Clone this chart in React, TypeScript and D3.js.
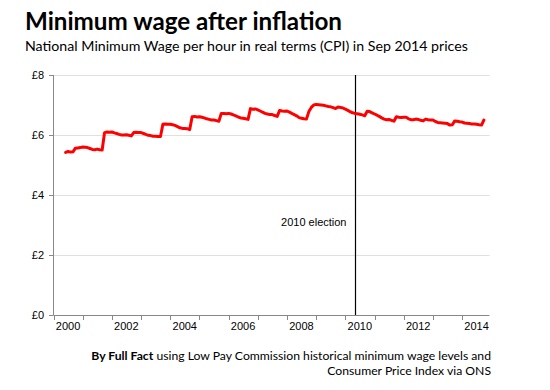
import React from "react";
import * as d3 from "d3";

// real-terms minimum wage per hour (Sep 2014 prices), monthly from Jun 2000
const firstMonth = new Date(2000, 5, 1);
const wage2000 = [5.42, 5.45, 5.43, 5.44, 5.56, 5.57, 5.58];
const wage2001 = [5.6, 5.59, 5.58, 5.55, 5.52, 5.51, 5.53, 5.51, 5.5, 6.08, 6.1, 6.09];
const wage2002 = [6.1, 6.07, 6.05, 6.02, 6.0, 6.0, 6.01, 5.99, 5.97, 6.08, 6.09, 6.08];
const wage2003 = [6.08, 6.05, 6.02, 5.99, 5.98, 5.96, 5.96, 5.95, 5.95, 6.36, 6.37, 6.36];
const wage2004 = [6.36, 6.34, 6.32, 6.28, 6.24, 6.22, 6.22, 6.21, 6.18, 6.61, 6.62, 6.6];
const wage2005 = [6.61, 6.59, 6.57, 6.54, 6.52, 6.5, 6.5, 6.48, 6.46, 6.72, 6.72, 6.71];
const wage2006 = [6.72, 6.7, 6.67, 6.64, 6.6, 6.57, 6.56, 6.54, 6.52, 6.88, 6.86, 6.87];
const wage2007 = [6.84, 6.8, 6.76, 6.72, 6.7, 6.68, 6.68, 6.65, 6.62, 6.82, 6.8, 6.79];
const wage2008 = [6.8, 6.76, 6.72, 6.68, 6.64, 6.58, 6.56, 6.54, 6.53, 6.78, 6.92, 7.0];
const wage2009 = [7.02, 7.01, 7.0, 6.99, 6.97, 6.95, 6.94, 6.91, 6.88, 6.93, 6.92, 6.9];
const wage2010 = [6.86, 6.82, 6.78, 6.74, 6.72, 6.71, 6.69, 6.67, 6.64, 6.79, 6.78, 6.74];
const wage2011 = [6.7, 6.66, 6.62, 6.57, 6.53, 6.51, 6.52, 6.49, 6.46, 6.61, 6.59, 6.58];
const wage2012 = [6.59, 6.59, 6.54, 6.51, 6.51, 6.53, 6.52, 6.49, 6.47, 6.53, 6.51, 6.5];
const wage2013 = [6.5, 6.45, 6.42, 6.41, 6.4, 6.39, 6.38, 6.33, 6.34, 6.47, 6.46, 6.44];
const wage2014 = [6.43, 6.4, 6.39, 6.38, 6.37, 6.37, 6.36, 6.34, 6.33, 6.5];

const wages = [
  ...wage2000, ...wage2001, ...wage2002, ...wage2003, ...wage2004,
  ...wage2005, ...wage2006, ...wage2007, ...wage2008, ...wage2009,
  ...wage2010, ...wage2011, ...wage2012, ...wage2013, ...wage2014,
];

const yTicks = [0, 2, 4, 6, 8];
const yearLabels = [2000, 2002, 2004, 2006, 2008, 2010, 2012, 2014];
const electionDate = new Date(2010, 4, 6);

const tickFont = "'Liberation Sans', Arial, sans-serif";
const textFont = "Lato, 'Open Sans', sans-serif";

const App = () => {
  const x = d3
    .scaleTime()
    .domain([new Date(2000, 0, 1), new Date(2014, 11, 10)])
    .range([53.5, 489.5]);
  const y = d3.scaleLinear().domain([0, 8]).range([315, 75]);

  const points = wages.map((v, i) => ({ date: d3.timeMonth.offset(firstMonth, i), value: v }));
  const line = d3
    .line<{ date: Date; value: number }>()
    .x(d => x(d.date))
    .y(d => y(d.value));

  const yearTicks = d3.timeYear.range(new Date(2000, 0, 1), new Date(2015, 0, 1));
  const ex = Math.round(x(electionDate)) + 0.5;

  return (
    <svg width={550} height={390} style={{ position: "absolute", left: 0, top: 0 }}>
      <rect width={550} height={390} fill="#fff" />
      <text x={25} y={30} fontFamily={textFont} fontWeight="bold" fontSize={24.2} fill="#000">
        Minimum wage after inflation
      </text>
      <text x={25} y={51} fontFamily={textFont} fontSize={14.2} fill="#000">
        National Minimum Wage per hour in real terms (CPI) in Sep 2014 prices
      </text>

      {yTicks.map(t => (
        <g key={t}>
          {t > 0 && (
            <line x1={53.5} x2={489.5} y1={y(t) + 0.5} y2={y(t) + 0.5} stroke="#e0e0e0" />
          )}
          <line x1={49} x2={53.5} y1={y(t) + 0.5} y2={y(t) + 0.5} stroke="#888" />
          <text
            x={44}
            y={y(t) + 4}
            textAnchor="end"
            fontFamily={tickFont}
            fontSize={11}
            fill="#000"
          >
            £{t}
          </text>
        </g>
      ))}

      <line x1={53.5} x2={53.5} y1={75} y2={315} stroke="#888" />
      <line x1={53.5} x2={489.5} y1={315.5} y2={315.5} stroke="#888" />
      {yearTicks.map(d => (
        <line
          key={d.getFullYear()}
          x1={Math.round(x(d)) + 0.5}
          x2={Math.round(x(d)) + 0.5}
          y1={315}
          y2={320}
          stroke="#888"
        />
      ))}
      {yearLabels.map(yr => (
        <text
          key={yr}
          x={x(new Date(yr, 6, 1))}
          y={330}
          textAnchor="middle"
          fontFamily={tickFont}
          fontSize={11}
          fill="#000"
        >
          {yr}
        </text>
      ))}

      <line x1={ex} x2={ex} y1={75} y2={315} stroke="#000" strokeWidth={1.2} />
      <text
        x={ex - 9}
        y={226}
        textAnchor="end"
        fontFamily={tickFont}
        fontSize={11}
        fill="#000"
      >
        2010 election
      </text>

      <path
        d={line(points) || ""}
        fill="none"
        stroke="#ff0000"
        strokeWidth={3}
        strokeLinejoin="round"
        strokeLinecap="round"
      />

      <text x={491} y={360} textAnchor="end" fontFamily={textFont} fontSize={12.2} fill="#000">
        <tspan fontWeight="bold">By Full Fact</tspan> using Low Pay Commission historical minimum
        wage levels and
      </text>
      <text x={491} y={375} textAnchor="end" fontFamily={textFont} fontSize={12.2} fill="#000">
        Consumer Price Index via ONS
      </text>
    </svg>
  );
};

export default App;
